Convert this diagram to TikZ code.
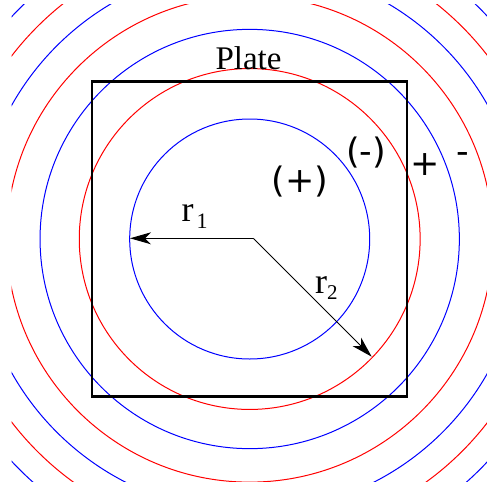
\documentclass[tikz,border=0pt]{standalone}
\usepackage{fontspec}
\setmainfont{Liberation Serif}
\newfontfamily\djv{DejaVu Sans}
\usetikzlibrary{arrows.meta}
\begin{document}
\begin{tikzpicture}[x=1pt,y=-1pt,
  zone/.style={line width=1pt},
  platebox/.style={draw=black, line width=2.3pt, minimum size=315pt, inner sep=0pt},
  arr/.style={line width=1pt, -{Stealth[length=21pt,width=12pt,inset=6pt]}},
  serlab/.style={inner sep=0pt, font=\fontsize{33}{33}\selectfont},
  rlab/.style={inner sep=0pt, anchor=base west, font=\fontsize{36}{36}\selectfont},
  signlab/.style={inner sep=0pt, anchor=base, font=\djv\fontsize{35}{35}\selectfont}]
\useasboundingbox (0,0) rectangle (487,488);
\coordinate (c) at (249.7,239);
\begin{scope}
  \clip (11.7,4) rectangle (487.5,481);
  \foreach \n/\col in {1/blue,2/red,3/blue,4/red,5/blue,6/red,7/blue,8/red} {
    \pgfmathsetmacro\rad{10*sqrt(\n*142.74+\n*\n*1.26)}
    \draw[zone, draw=\col] (c) circle[radius=\rad];
  }
\end{scope}
\node[platebox] (plate) at (c) {};
\coordinate (o) at (253.3,238.3);
\coordinate (e1) at (130,238.3);
\coordinate (e2) at (371.7,356.7);
\draw[arr] (o) -- (e1);
\draw[arr] (o) -- (e2);
\node[serlab, anchor=base] (platelabel) at (248.5,69.5) {Plate};
\node[rlab] (r1) at (181.5,221.7) {r\kern3pt\raisebox{-6.6pt}{\fontsize{22}{22}\selectfont 1}};
\node[rlab] (r2) at (315,293) {r\raisebox{-6pt}{\fontsize{21}{21}\selectfont 2}};
\node[signlab] (pin) at (300,192.8) {(+)};
\node[signlab] (min) at (366,163.5) {(-)};
\node[signlab] (pout) at (425,175) {+};
\node[signlab] (mout) at (462.5,163) {-};
\end{tikzpicture}
\end{document}
